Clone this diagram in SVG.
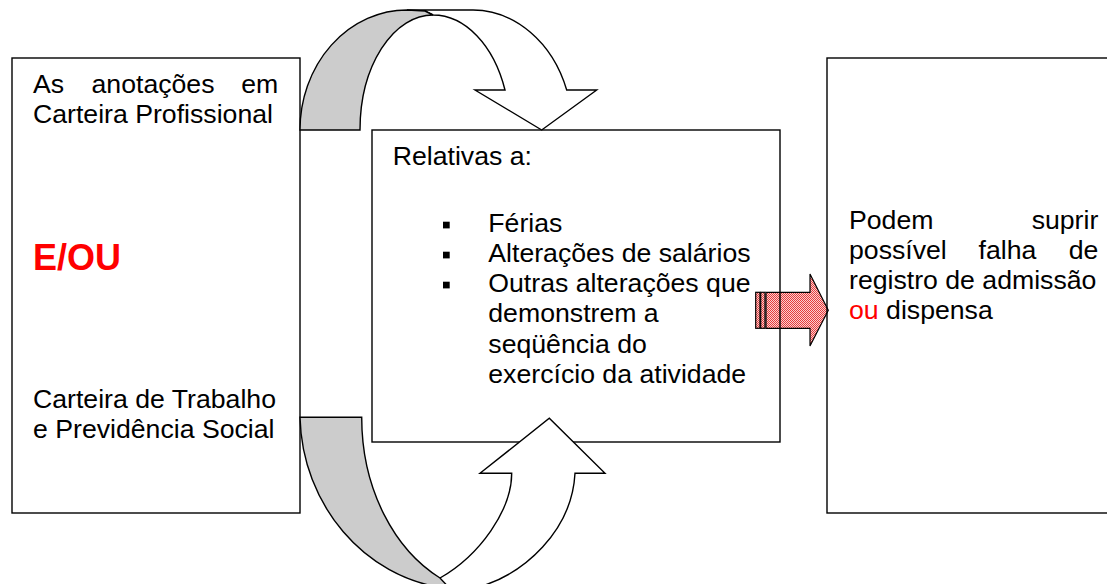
<svg xmlns="http://www.w3.org/2000/svg" width="1107" height="584" viewBox="0 0 1107 584">
<style>
  .box { fill: none; stroke: #000; stroke-width: 1.4; }
  .band { stroke: #000; stroke-width: 1.4; stroke-linejoin: miter; }
  .white { fill: #fff; }
  .gray { fill: #cccccc; }
  .t { font-family: "Liberation Sans", Arial, sans-serif; font-size: 26.67px; fill: #000; }
  .red { fill: #ff0000; }
  .big { font-family: "Liberation Sans", Arial, sans-serif; font-size: 36px; font-weight: bold; fill: #ff0000; }
</style>
<defs>
  <pattern id="dots" width="2" height="2" patternUnits="userSpaceOnUse">
    <rect width="2" height="2" fill="#fbd0d0"/>
    <rect width="1" height="1" fill="#e63c3c"/>
    <rect x="1" y="1" width="1" height="1" fill="#e63c3c"/>
  </pattern>
</defs>
<rect width="1107" height="584" fill="#fff"/>

<g id="connectors">
  <!-- striped block arrow -->
  <g id="striped-arrow" stroke="#000" stroke-width="1.2">
    <rect x="755.7" y="292.3" width="4.3" height="36" fill="url(#dots)"/>
    <rect x="760.7" y="292.3" width="4.3" height="36" fill="url(#dots)"/>
    <path d="M766,292.3 L810,292.3 L810,274 L828.3,310.3 L810,346 L810,328.3 L766,328.3 Z" fill="url(#dots)"/>
  </g>
</g>

<g id="node-left">
  <rect class="box" x="12" y="58" width="288" height="455"/>
  <text class="t" x="33" y="93.3">As</text>
  <text class="t" x="91.5" y="93.3">anotações</text>
  <text class="t" x="278.3" y="93.3" text-anchor="end">em</text>
  <text class="t" x="33" y="123.3">Carteira Profissional</text>
  <text class="big" x="33" y="270">E/OU</text>
  <text class="t" x="33" y="408.3">Carteira de Trabalho</text>
  <text class="t" x="33" y="438.3">e Previdência Social</text>
</g>

<g id="node-middle">
  <rect class="box" x="372" y="130" width="408" height="312"/>
  <text class="t" x="392.7" y="165">Relativas a:</text>
  <rect x="443" y="221.7" width="6.7" height="6.7" fill="#000"/>
  <rect x="443" y="251.7" width="6.7" height="6.7" fill="#000"/>
  <rect x="443" y="281.7" width="6.7" height="6.7" fill="#000"/>
  <text class="t" x="488.3" y="231.7">Férias</text>
  <text class="t" x="488.3" y="261.7">Alterações de salários</text>
  <text class="t" x="488.3" y="291.7">Outras alterações que</text>
  <text class="t" x="488.3" y="322">demonstrem a</text>
  <text class="t" x="488.3" y="352.5">seqüência do</text>
  <text class="t" x="488.3" y="383">exercício da atividade</text>
</g>

<g id="node-right">
  <rect class="box" x="827" y="58" width="300" height="455"/>
  <text class="t" x="849" y="228.5">Podem</text>
  <text class="t" x="1098.3" y="228.5" text-anchor="end">suprir</text>
  <text class="t" x="849" y="258.5">possível</text>
  <text class="t" x="978.6" y="258.5">falha</text>
  <text class="t" x="1098.3" y="258.5" text-anchor="end">de</text>
  <text class="t" x="849" y="288.5">registro de admissão</text>
  <text class="t" x="849" y="318.5"><tspan class="red">ou</tspan> dispensa</text>
</g>

<g id="curved-arrows">
  <!-- top curved down arrow -->
  <g id="arrow-top">
    <path class="band white" d="M407,10 L473,10 A100,120 0 0 1 566.7,90 L596.7,90 L541.7,130 L475,90 L505,90 A77,115 0 0 0 433,15 L425,11 Z"/>
    <path class="band gray" d="M300,130 A107,120 0 0 1 407,10 L425,11 L433,15 A73,115 0 0 0 360,130 Z"/>
  </g>
  <!-- bottom curved up arrow -->
  <g id="arrow-bottom">
    <path class="band white" d="M440,578 C480,555 511.7,510 511.7,473.3 L480,473.3 L549.3,418.3 L605,473.3 L575,473.3 C572,530 525,575 475,588 L445,592 Z"/>
    <path class="band gray" d="M300,417.3 L361.7,417.3 C361.7,490 395,550 440,578 L455,594 L445,588 C365,578 302,505 300,417.3 Z"/>
  </g>
</g>
</svg>
